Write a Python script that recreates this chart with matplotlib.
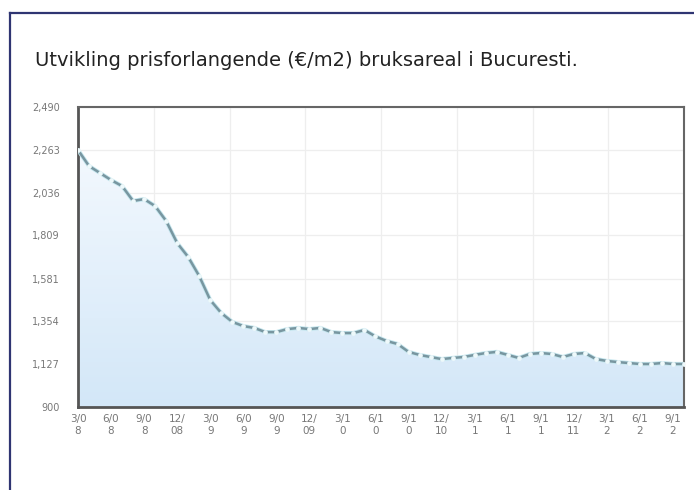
#!/usr/bin/env python3
# Asking price (EUR/m2) development, Bucharest, 3/08 - 10/12
import numpy as np
import matplotlib
matplotlib.use('Agg')
import matplotlib.pyplot as plt
from matplotlib.lines import Line2D

# monthly values, starting 3/08
months = np.arange(56)
price = [2262, 2177, 2140, 2103, 2071, 1992, 2002, 1965, 1886, 1769,
         1695, 1594, 1467, 1398, 1351, 1329, 1319, 1297, 1297, 1313,
         1319, 1313, 1319, 1297, 1292, 1292, 1308, 1274, 1250, 1234,
         1192, 1176, 1165, 1154, 1160, 1165, 1176, 1186, 1192, 1176,
         1160, 1181, 1186, 1181, 1165, 1181, 1186, 1154, 1144, 1138,
         1133, 1128, 1128, 1133, 1128, 1128]

tick_pos = np.arange(0, 55, 3)
tick_labels = ['3/0\n8', '6/0\n8', '9/0\n8', '12/\n08',
               '3/0\n9', '6/0\n9', '9/0\n9', '12/\n09',
               '3/1\n0', '6/1\n0', '9/1\n0', '12/\n10',
               '3/1\n1', '6/1\n1', '9/1\n1', '12/\n11',
               '3/1\n2', '6/1\n2', '9/1\n2']
y_ticks = [900, 1127, 1354, 1581, 1809, 2036, 2263, 2490]

title = 'Utvikling prisforlangende (€/m2) bruksareal i Bucuresti.'

fig = plt.figure(figsize=(6.94, 4.90), dpi=100)
fig.patch.set_facecolor('white')

# navy frame (top and left edges)
frame_col = '#2f3572'
fig.add_artist(Line2D([10/694, 1.0], [1 - 13/490, 1 - 13/490],
                      transform=fig.transFigure, color=frame_col, lw=1.6))
fig.add_artist(Line2D([10/694, 10/694], [0.0, 1 - 13/490],
                      transform=fig.transFigure, color=frame_col, lw=1.6))

fig.text(35/694, 1 - 61/490, title, fontsize=14, color='#222222',
         ha='left', va='center', family='DejaVu Sans')

ax = fig.add_axes([78/694, 83/490, 606/694, 300/490])
ax.set_xlim(0, 55)
ax.set_ylim(900, 2490)

# gradient fill under the line
fill = ax.fill_between(months, price, 900, color='none', lw=0)
grad = np.linspace(0, 1, 256).reshape(-1, 1)
cmap = matplotlib.colors.LinearSegmentedColormap.from_list(
    'fillgrad', ['#d3e7f8', '#f4f9fe'])
img = ax.imshow(grad, cmap=cmap, aspect='auto', origin='lower',
                extent=[0, 55, 900, 2300], zorder=1)
path = fill.get_paths()[0]
img.set_clip_path(path, transform=ax.transData)

ax.plot(months, price, color='#c4e6ee', lw=3.0, zorder=3,
        solid_capstyle='round')
ax.plot(months, price, color='#7896a0', lw=1.8, zorder=4,
        marker='o', markersize=3.4, markerfacecolor='#eef9fb',
        markeredgecolor='#eef9fb', markeredgewidth=0)

ax.set_yticks(y_ticks)
ax.set_yticklabels(['{:,}'.format(v) for v in y_ticks])
ax.set_xticks(tick_pos)
ax.set_xticklabels(tick_labels, linespacing=1.25)
ax.set_xticks(np.linspace(0, 55, 9), minor=True)
ax.tick_params(which='both', length=0)
ax.tick_params(axis='y', labelsize=7, labelcolor='#777777', pad=13)
ax.tick_params(axis='x', labelsize=7.5, labelcolor='#777777', pad=5)

ax.grid(axis='y', which='major', color='#eeeeee', lw=0.9)
ax.grid(axis='x', which='minor', color='#eeeeee', lw=0.9)
ax.set_axisbelow(True)

for side in ['left', 'bottom']:
    ax.spines[side].set_color('#555555')
    ax.spines[side].set_linewidth(2.0)
for side in ['top', 'right']:
    ax.spines[side].set_color('#666666')
    ax.spines[side].set_linewidth(1.5)

fig.savefig('out.png', dpi=100, facecolor='white')
